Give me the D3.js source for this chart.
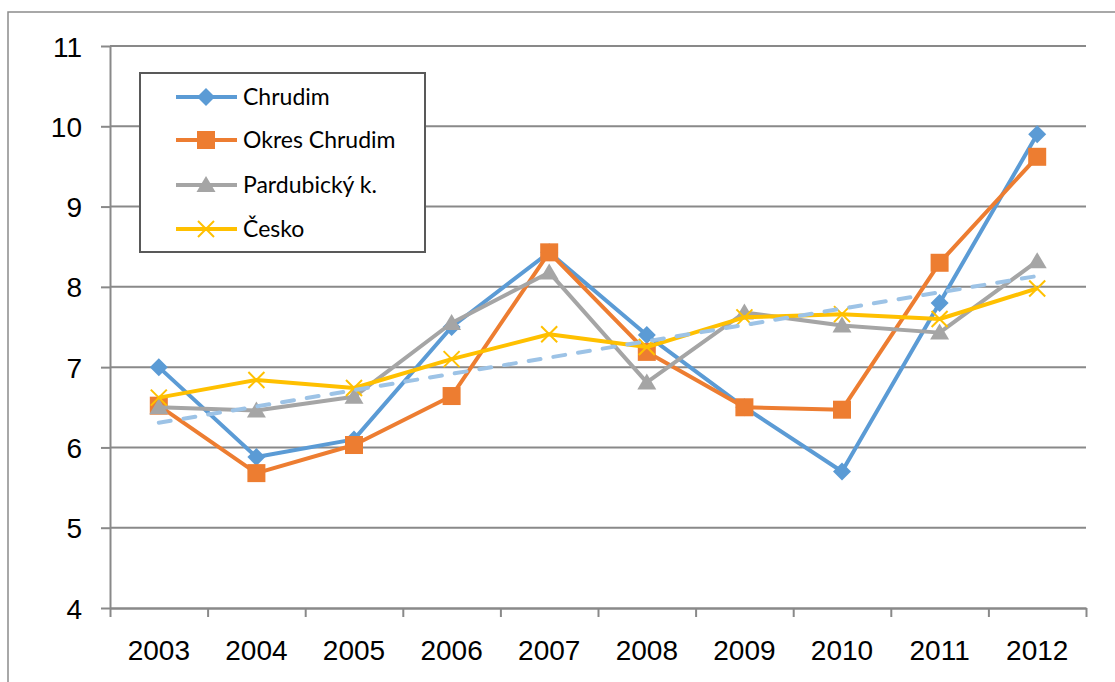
<!DOCTYPE html>
<html>
<head>
<meta charset="utf-8">
<script src="https://cdn.jsdelivr.net/npm/d3@7/dist/d3.min.js"></script>
<style>
    html, body { margin: 0; padding: 0; background: #fff; }
    svg { display: block; font-family: Lato, "Open Sans", sans-serif; }
</style>
</head>
<body>
<svg id="chart"></svg>
<script>
const years = ['2003', '2004', '2005', '2006', '2007', '2008', '2009', '2010', '2011', '2012']
const yTicks = [4, 5, 6, 7, 8, 9, 10, 11]

const chrudim = [7.0, 5.88, 6.1, 7.5, 8.43, 7.4, 6.5, 5.7, 7.8, 9.9]
const okresChrudim = [6.52, 5.68, 6.03, 6.64, 8.43, 7.19, 6.5, 6.47, 8.3, 9.62]
const pardubicky = [6.5, 6.46, 6.63, 7.55, 8.18, 6.81, 7.68, 7.52, 7.43, 8.32]
const cesko = [6.62, 6.84, 6.74, 7.1, 7.41, 7.25, 7.62, 7.66, 7.6, 7.98]

const series = [
    { name: 'Chrudim', values: chrudim, color: '#5B9BD5', marker: 'diamond' },
    { name: 'Okres Chrudim', values: okresChrudim, color: '#ED7D31', marker: 'square' },
    { name: 'Pardubický k.', values: pardubicky, color: '#A5A5A5', marker: 'triangle' },
    { name: 'Česko', values: cesko, color: '#FFC000', marker: 'cross' },
]

const WIDTH = 1115
const HEIGHT = 682
const PLOT = { left: 110, right: 1086, top: 46, bottom: 608 }
const GRID = '#898989'

const svg = d3.select('#chart')
    .attr('width', WIDTH)
    .attr('height', HEIGHT)
    .attr('viewBox', [0, 0, WIDTH, HEIGHT].join(' '))

// chart area frame (only left/top edges are inside the picture)
svg.append('rect')
    .attr('x', 8)
    .attr('y', 12)
    .attr('width', WIDTH + 20)
    .attr('height', HEIGHT + 20)
    .attr('fill', 'none')
    .attr('stroke', '#8c8c8c')
    .attr('stroke-width', 1.5)

const x = d3.scaleBand().domain(years).range([PLOT.left, PLOT.right])
const xEdge = d3.scaleLinear().domain([0, years.length]).range([PLOT.left, PLOT.right])
const y = d3.scaleLinear().domain([4, 11]).range([PLOT.bottom, PLOT.top])
const cx = d => x(d) + x.bandwidth() / 2

// horizontal gridlines
svg.append('g')
    .selectAll('line')
    .data(yTicks.slice(1))
    .join('line')
    .attr('x1', PLOT.left)
    .attr('x2', PLOT.right)
    .attr('y1', d => y(d))
    .attr('y2', d => y(d))
    .attr('stroke', GRID)
    .attr('stroke-width', 2)

// y axis
const yAxisGroup = svg.append('g')
    .attr('transform', `translate(${PLOT.left},0)`)
    .call(d3.axisLeft(y).tickValues(yTicks).tickFormat(d3.format('d'))
        .tickSize(9).tickPadding(19).tickSizeOuter(0))
yAxisGroup.select('.domain').attr('stroke', GRID).attr('stroke-width', 2)
yAxisGroup.selectAll('.tick line').attr('stroke', GRID).attr('stroke-width', 2)
yAxisGroup.selectAll('.tick text')
    .attr('fill', '#000')
    .style('font-size', '28px')
    .attr('dy', '0.36em')

// x axis: tick marks at category edges
const xTickGroup = svg.append('g')
    .attr('transform', `translate(0,${PLOT.bottom})`)
    .call(d3.axisBottom(xEdge).ticks(years.length).tickFormat('').tickSize(9).tickSizeOuter(0))
xTickGroup.select('.domain').attr('stroke', GRID).attr('stroke-width', 2.5)
xTickGroup.selectAll('.tick line').attr('stroke', GRID).attr('stroke-width', 2)

// x axis: labels at category centres
const xLabelGroup = svg.append('g')
    .attr('transform', `translate(0,${PLOT.bottom})`)
    .call(d3.axisBottom(x).tickSize(0).tickPadding(32))
xLabelGroup.select('.domain').remove()
xLabelGroup.selectAll('.tick text')
    .attr('fill', '#000')
    .style('font-size', '28px')

// markers
function drawMarker(g, type, color) {
    if (type === 'diamond') {
        g.append('path').attr('d', 'M0,-9L9,0L0,9L-9,0Z').attr('fill', color)
    } else if (type === 'square') {
        g.append('rect').attr('x', -9).attr('y', -9).attr('width', 18).attr('height', 18).attr('fill', color)
    } else if (type === 'triangle') {
        g.append('path').attr('d', 'M0,-9L9.5,7L-9.5,7Z').attr('fill', color)
    } else if (type === 'cross') {
        g.append('path').attr('d', 'M-8,-8L8,8M-8,8L8,-8')
            .attr('stroke', color).attr('stroke-width', 2).attr('fill', 'none')
    }
}

const line = d3.line()
    .x((d, i) => cx(years[i]))
    .y(d => y(d))

for (const s of series) {
    const g = svg.append('g')
    g.append('path')
        .datum(s.values)
        .attr('d', line)
        .attr('fill', 'none')
        .attr('stroke', s.color)
        .attr('stroke-width', 4)
        .attr('stroke-linejoin', 'round')
    g.selectAll('g.marker')
        .data(s.values)
        .join('g')
        .attr('class', 'marker')
        .attr('transform', (d, i) => `translate(${cx(years[i])},${y(d)})`)
        .each(function () { drawMarker(d3.select(this), s.marker, s.color) })
}

// linear trend of Chrudim
const idx = d3.range(chrudim.length)
const mx = d3.mean(idx)
const my = d3.mean(chrudim)
const slope = d3.sum(idx, i => (i - mx) * (chrudim[i] - my)) / d3.sum(idx, i => (i - mx) ** 2)
const trend = [my - slope * mx, my + slope * (idx.length - 1 - mx)]
svg.append('line')
    .attr('x1', cx(years[0]))
    .attr('x2', cx(years[years.length - 1]))
    .attr('y1', y(trend[0]))
    .attr('y2', y(trend[1]))
    .attr('stroke', '#9DC3E6')
    .attr('stroke-width', 4)
    .attr('stroke-linecap', 'round')
    .attr('stroke-dasharray', '12,13')

// legend
const legend = svg.append('g')
legend.append('rect')
    .attr('x', 140)
    .attr('y', 73)
    .attr('width', 285)
    .attr('height', 179)
    .attr('fill', '#fff')
    .attr('stroke', '#595959')
    .attr('stroke-width', 2)

const legendRows = [97, 140, 185, 229]
series.forEach((s, i) => {
    const row = legend.append('g').attr('transform', `translate(0,${legendRows[i]})`)
    row.append('line')
        .attr('x1', 176).attr('x2', 237)
        .attr('stroke', s.color).attr('stroke-width', 4)
    drawMarker(row.append('g').attr('transform', 'translate(206,0)'), s.marker, s.color)
    row.append('text')
        .attr('x', 243)
        .attr('dy', '0.36em')
        .style('font-size', '23px')
        .attr('fill', '#000')
        .text(s.name)
})
</script>
</body>
</html>
